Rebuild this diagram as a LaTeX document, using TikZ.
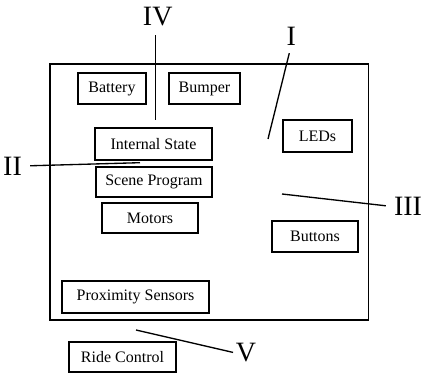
\documentclass[tikz,border=0pt]{standalone}
\usepackage{fontspec}
\setmainfont{Liberation Serif}
\usetikzlibrary{calc}
\tikzset{
  box/.style={draw, line width=1.1pt, minimum height=23pt, inner sep=0pt, font=\fontsize{12}{14}\selectfont},
  numlbl/.style={inner sep=0pt, font=\fontsize{21}{21}\selectfont},
  ln/.style={line width=1pt},
}
\begin{document}
\begin{tikzpicture}[x=0.75pt, y=-0.75pt]
\useasboundingbox (0,0) rectangle (423,373);
\node[draw, line width=0.8pt, minimum width=238.9pt, minimum height=192pt, inner sep=0pt] (frame) at (209.25,192) {};
% parts inside the frame
\node[box, minimum width=51pt] (battery) at (112,88.5) {Battery};
\node[box, minimum width=53.25pt] (bumper) at (204.5,88.5) {Bumper};
\node[box, minimum width=87.75pt, minimum height=24pt] (state) at (153.5,144) {Internal State};
\node[box, minimum width=87pt, minimum height=22.5pt] (scene) at (154,182) {Scene Program};
\node[box, minimum width=72pt, minimum height=22.5pt] (motors) at (150,218) {Motors};
\node[box, minimum width=51.75pt, minimum height=24pt] (leds) at (317.5,136) {LEDs};
\node[box, minimum width=64.5pt] (buttons) at (315,236.5) {Buttons};
\node[box, minimum width=110.25pt, minimum height=24pt] (prox) at (135.5,297) {Proximity Sensors};
\node[box, minimum width=80.25pt, minimum height=22.5pt] (ride) at (122.5,357) {Ride Control};
% numerals and their lines
\node[numlbl] (i) at (291.2,36) {I};
\node[numlbl] (ii) at (12.5,166) {II};
\node[numlbl] (iii) at (408,206.7) {III};
\node[numlbl] (iv) at (157.7,16.3) {IV};
\node[numlbl] (v) at (246,353) {V};
\coordinate (iend) at (268,139);
\coordinate (iiend) at (140,162.7);
\coordinate (iiiend) at (282,194);
\coordinate (ivend) at (155.7,120);
\coordinate (vend) at (136,330);
\draw[ln, shorten <=6pt] (i.south) -- (iend);
\draw[ln, shorten <=6pt] (ii.east) -- (iiend);
\draw[ln, shorten <=6pt] (iii.west) -- (iiiend);
\draw[ln, shorten <=7pt] (iv.south -| ivend) -- (ivend);
\draw[ln, shorten <=2pt] (v.west) -- (vend);
\end{tikzpicture}
\end{document}
